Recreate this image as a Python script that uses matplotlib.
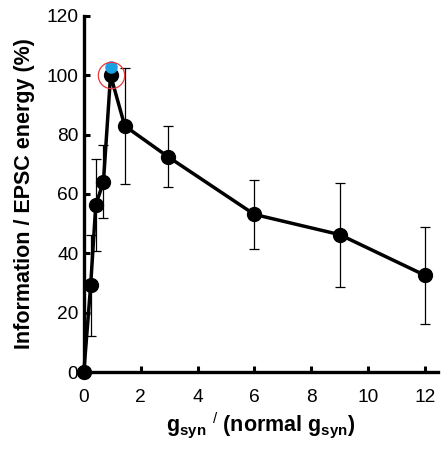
import matplotlib
matplotlib.use("Agg")
import matplotlib.pyplot as plt

plt.rcParams['font.family'] = ['Liberation Sans', 'DejaVu Sans']
plt.rcParams['mathtext.fontset'] = 'custom'
plt.rcParams['mathtext.rm'] = 'Liberation Sans'
plt.rcParams['mathtext.bf'] = 'Liberation Sans:bold'
plt.rcParams['mathtext.it'] = 'Liberation Sans:italic'

# conductance relative to normal, and information per EPSC energy (%)
g_rel = [0.0, 0.24, 0.42, 0.69, 0.94, 1.44, 2.95, 6.0, 9.0, 12.0]
info_per_energy = [0.0, 29.3, 56.3, 64.1, 100.0, 82.9, 72.6, 53.1, 46.3, 32.6]
err = [0.0, 17.0, 15.5, 12.3, 0.0, 19.5, 10.3, 11.5, 17.5, 16.4]

# highlighted point at normal conductance
highlight_x = [0.94]
highlight_y = [102.7]

x_ticks = [0, 2, 4, 6, 8, 10, 12]
y_ticks = [0, 20, 40, 60, 80, 100, 120]

fig = plt.figure(figsize=(4.46, 4.51), dpi=100)
ax = fig.add_axes([0.188, 0.175, 0.794, 0.790])

eb_x = [x for x, e in zip(g_rel, err) if e > 0]
eb_y = [y for y, e in zip(info_per_energy, err) if e > 0]
eb_e = [e for e in err if e > 0]
ax.errorbar(eb_x, eb_y, yerr=eb_e, fmt='none', ecolor='black',
            elinewidth=0.9, capsize=3.5, capthick=0.9, zorder=2, clip_on=False)

ax.plot(g_rel, info_per_energy, color='black', lw=2.5, marker='o',
        markersize=10, zorder=3, clip_on=False)

ax.plot(highlight_x, highlight_y, linestyle='none', marker='o',
        markersize=8, color='#1ba1e2', zorder=4, clip_on=False)
ax.plot(highlight_x, [info_per_energy[4]], linestyle='none', marker='o',
        markersize=19, markerfacecolor='none', markeredgecolor='#e8363c',
        markeredgewidth=0.9, zorder=5, clip_on=False)

ax.set_xlim(0, 12.46)
ax.set_ylim(0, 120)
ax.set_xticks(x_ticks)
ax.set_yticks(y_ticks)
ax.tick_params(direction='in', length=4.5, width=2.2, labelsize=13.8)
ax.tick_params(axis='x', pad=12)
ax.tick_params(axis='y', pad=4)

for side in ('top', 'right'):
    ax.spines[side].set_visible(False)
for side in ('left', 'bottom'):
    ax.spines[side].set_linewidth(2.4)

ax.set_ylabel('Information / EPSC energy (%)', fontsize=15.5, fontweight='bold',
              labelpad=8)
ax.set_xlabel(r'$\mathbf{g_{syn}}$ $^{/}$ $\mathbf{(normal\ g_{syn})}$',
              fontsize=15.5, labelpad=3)

fig.savefig('out.png', dpi=100)
